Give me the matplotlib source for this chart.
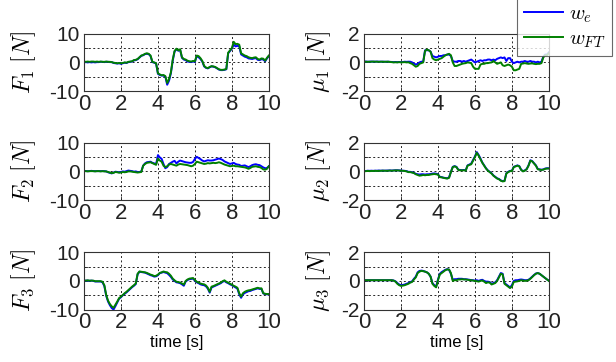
import numpy as np
import matplotlib
matplotlib.use("Agg")
import matplotlib.pyplot as plt

plt.rcParams['font.family'] = ['Liberation Sans', 'DejaVu Sans']
plt.rcParams['mathtext.fontset'] = 'cm'
plt.rcParams['axes.unicode_minus'] = False

# time axis, 0.1 s steps
t = np.linspace(0, 10, 101)

# F1 [N]
f1_e = [0.0, 0.1, 0.0, 0.1, 0.0, 0.1, 0.0, 0.1, 0.1, 0.2,
        0.2, 0.1, 0.2, 0.2, 0.1, 0.1, -0.2, -0.3, -0.4, -0.3,
        -0.5, -0.3, -0.1, -0.2, 0.1, 0.2, 0.3, 0.7, 0.8, 1.1,
        1.7, 2.3, 2.5, 2.9, 3.0, 2.9, 2.2, 0.1, -0.1, -0.4,
        -4.0, -4.4, -4.6, -4.6, -5.0, -7.8, -6.4, -3.8, 0.6, 3.8,
        4.6, 4.1, 4.4, 1.6, 1.0, 0.8, 0.3, 0.2, 0.1, 0.3,
        0.2, 2.2, 1.8, 1.2, 0.3, -1.4, -1.9, -2.1, -1.7, -1.4,
        -1.5, -1.7, -2.1, -2.5, -2.7, -2.7, -2.6, -2.4, 3.2, 4.0,
        4.8, 6.2, 5.6, 5.8, 5.6, 2.8, 2.4, 2.0, 1.8, 1.4,
        1.3, 1.2, 1.4, 1.5, 0.9, 0.8, 1.1, 1.0, 0.4, 1.4,
        2.2]
f1_ft = [0.3, 0.2, 0.3, 0.2, 0.3, 0.3, 0.2, 0.3, 0.2, 0.3,
         0.2, 0.2, 0.3, 0.2, 0.2, 0.1, -0.1, -0.2, -0.3, -0.2,
         -0.3, -0.2, 0.0, -0.1, 0.2, 0.3, 0.4, 0.8, 0.9, 1.2,
         1.8, 2.4, 2.6, 3.0, 3.2, 3.0, 2.4, 0.2, 0.0, -0.3,
         -3.8, -4.2, -4.5, -4.4, -4.8, -7.2, -5.8, -3.5, 1.0, 4.0,
         4.8, 4.2, 4.6, 1.8, 1.2, 1.0, 0.6, 0.4, 0.3, 0.5,
         0.4, 2.4, 2.2, 1.5, 0.5, -1.2, -1.8, -2.0, -1.6, -1.3,
         -1.4, -1.6, -2.0, -2.4, -2.6, -2.6, -2.5, -2.3, 3.4, 4.2,
         5.0, 7.2, 6.4, 6.5, 6.2, 3.2, 2.8, 2.4, 2.2, 1.8,
         1.6, 1.5, 1.7, 1.8, 1.2, 1.0, 1.4, 1.3, 0.6, 1.6,
         2.4]

# F2 [N]
f2_e = [0.2, 0.1, 0.1, 0.1, 0.2, 0.1, 0.1, 0.1, 0.1, 0.1,
        0.1, 0.1, 0.0, -0.3, -0.5, -0.7, -0.4, -0.1, -0.2, -0.3,
        -0.2, 0.0, -0.1, 0.1, 0.3, 0.2, 0.1, -0.1, 0.0, -0.2,
        -0.2, 0.0, 2.0, 2.8, 3.2, 3.3, 3.4, 3.0, 2.8, 2.5,
        5.7, 4.9, 4.4, 2.6, 1.1, 1.5, 2.6, 3.0, 3.4, 3.7,
        2.8, 3.4, 3.8, 3.6, 3.4, 3.2, 3.1, 3.0, 3.0, 3.3,
        4.4, 5.1, 4.7, 4.3, 3.8, 3.5, 3.7, 3.9, 3.8, 3.8,
        3.9, 4.1, 4.3, 4.5, 4.3, 4.0, 3.5, 3.2, 2.9, 2.6,
        2.8, 3.0, 2.6, 2.4, 2.3, 1.9, 2.0, 2.1, 1.8, 1.5,
        1.8, 2.2, 2.4, 2.5, 2.3, 2.2, 1.8, 1.4, 1.1, 1.2,
        1.8]
f2_ft = [0.1, 0.1, 0.0, 0.1, 0.1, 0.1, 0.0, 0.1, 0.1, 0.0,
         0.1, 0.0, 0.0, -0.2, -0.4, -0.6, -0.5, -0.2, -0.3, -0.45,
         -0.4, -0.2, -0.3, -0.2, 0.0, 0.0, -0.1, -0.2, -0.3, -0.4,
         -0.3, -0.2, 2.0, 2.6, 3.0, 3.1, 3.2, 2.9, 2.6, 2.3,
         4.5, 3.8, 3.4, 2.0, 1.5, 1.8, 2.4, 2.6, 2.4, 2.2,
         2.0, 2.4, 2.6, 2.5, 2.4, 2.3, 2.2, 2.0, 1.8, 2.0,
         2.6, 3.4, 3.2, 3.0, 2.8, 2.6, 2.7, 2.9, 2.8, 2.9,
         3.0, 2.9, 3.0, 3.2, 3.0, 2.7, 2.4, 2.2, 2.0, 1.8,
         1.9, 2.0, 1.8, 1.8, 1.7, 1.6, 1.5, 1.4, 1.2, 0.9,
         1.2, 1.6, 1.7, 1.8, 1.6, 1.5, 1.2, 0.7, 0.6, 0.9,
         1.8]

# F3 [N]
f3_e = [0.0, 0.1, 0.1, 0.0, 0.1, 0.0, -0.2, -0.2, -0.2, -0.2,
        -0.5, -1.8, -5.2, -7.2, -8.5, -9.5, -10.0, -8.8, -7.5, -6.2,
        -5.7, -5.0, -4.5, -4.0, -3.4, -2.8, -2.2, -1.7, -1.1, 2.3,
        3.2, 3.1, 3.0, 2.9, 2.6, 2.3, 2.0, 1.8, 1.5, 1.6,
        2.0, 2.7, 2.9, 3.1, 2.9, 2.7, 2.1, 1.4, 0.5, 0.0,
        -0.5, -0.6, -0.8, -1.2, -1.7, -0.2, 0.3, 0.6, 0.7, 0.8,
        0.1, -0.5, -0.8, -1.2, -1.4, -1.5, -1.9, -2.7, -4.1, -2.3,
        -2.0, -1.7, -1.4, -1.1, -0.8, -0.3, 0.0, -0.5, -0.8, -1.2,
        -1.5, -1.9, -2.3, -2.7, -4.7, -5.9, -4.7, -4.2, -3.9, -3.6,
        -3.5, -3.2, -3.0, -2.8, -2.6, -2.8, -2.8, -4.4, -4.6, -4.7,
        -4.7]
f3_ft = [0.1, 0.1, 0.2, 0.1, 0.1, 0.1, -0.1, -0.1, -0.1, -0.1,
         -0.3, -1.5, -4.9, -6.9, -8.1, -8.9, -9.4, -8.3, -7.2, -6.0,
         -5.5, -4.9, -4.3, -3.8, -3.2, -2.6, -2.0, -1.5, -0.9, 2.5,
         3.3, 3.2, 3.1, 3.0, 2.8, 2.5, 2.2, 2.0, 1.7, 1.8,
         2.2, 2.8, 3.0, 3.3, 3.1, 3.0, 2.5, 1.8, 0.8, 0.2,
         -0.3, -0.4, -0.6, -0.9, -1.3, 0.0, 0.5, 0.8, 0.9, 1.0,
         0.3, -0.3, -0.6, -0.9, -1.1, -1.2, -1.6, -2.4, -3.8, -2.0,
         -1.8, -1.5, -1.2, -0.9, -0.6, -0.1, 0.2, -0.3, -0.6, -1.0,
         -1.3, -1.7, -2.0, -2.4, -4.3, -5.5, -4.3, -3.8, -3.5, -3.3,
         -3.2, -3.0, -2.8, -2.6, -2.4, -2.6, -2.6, -4.3, -4.5, -4.6,
         -4.6]

# mu1 [N]
m1_e = [0.05, 0.06, 0.05, 0.05, 0.06, 0.05, 0.05, 0.06, 0.05, 0.05,
        0.05, 0.05, 0.04, 0.05, 0.04, 0.03, 0.02, 0.03, 0.02, 0.03,
        0.02, 0.03, 0.05, 0.04, 0.05, 0.05, 0.0, -0.08, -0.15, -0.1,
        0.0, 0.05, 0.05, 0.85, 0.85, 0.85, 0.75, 0.45, 0.4, 0.35,
        0.4, 0.45, 0.45, 0.5, 0.5, 0.55, 0.55, 0.45, 0.1, 0.05,
        0.05, 0.1, 0.1, 0.05, 0.1, 0.05, 0.1, 0.15, 0.2, 0.1,
        0.0, 0.05, 0.1, 0.15, 0.1, 0.15, 0.15, 0.2, 0.2, 0.15,
        0.2, 0.15, 0.25, 0.3, 0.35, 0.3, 0.35, 0.1, 0.3, 0.3,
        0.05, -0.05, 0.0, 0.05, 0.0, 0.05, 0.05, 0.1, 0.05, 0.05,
        0.1, 0.05, 0.05, 0.0, 0.05, 0.0, 0.05, 0.4, 0.55, 0.55,
        0.7]
m1_ft = [0.05, 0.05, 0.04, 0.05, 0.05, 0.06, 0.05, 0.05, 0.04, 0.05,
         0.05, 0.04, 0.05, 0.05, 0.03, 0.02, 0.0, 0.01, 0.0, 0.02,
         0.0, 0.01, 0.02, 0.0, 0.01, -0.05, -0.1, -0.2, -0.3, -0.25,
         -0.1, -0.05, 0.0, 0.8, 0.9, 0.85, 0.75, 0.3, 0.2, 0.15,
         0.2, 0.25, 0.3, 0.4, 0.5, 0.55, 0.6, 0.5, 0.0, -0.25,
         -0.25, -0.2, -0.15, -0.1, -0.07, -0.05, 0.0, -0.02, -0.05, -0.3,
         -0.45, -0.45, -0.45, -0.15, -0.1, -0.1, -0.05, -0.05, -0.02, 0.0,
         0.1, 0.0, -0.1, -0.05, 0.0, -0.2, -0.25, -0.2, -0.15, -0.2,
         -0.3, -0.55, -0.55, -0.5, -0.45, -0.1, -0.08, -0.05, -0.08, -0.1,
         -0.08, -0.07, -0.1, -0.12, -0.1, -0.1, -0.05, 0.35, 0.5, 0.5,
         0.65]

# mu2 [N]
m2_e = [0.02, 0.03, 0.05, 0.04, 0.05, 0.04, 0.05, 0.05, 0.06, 0.05,
        0.06, 0.05, 0.06, 0.06, 0.07, 0.06, 0.07, 0.08, 0.08, 0.07,
        0.06, 0.05, 0.04, 0.02, -0.03, -0.03, -0.06, -0.1, -0.17, -0.2,
        -0.22, -0.2, -0.2, -0.22, -0.2, -0.2, -0.18, -0.15, -0.14, -0.16,
        -0.2, -0.38, -0.4, -0.44, -0.46, -0.48, -0.42, -0.03, 0.32, 0.37,
        0.32, 0.12, 0.1, 0.09, 0.1, 0.07, 0.42, 0.48, 0.55, 0.8,
        1.05, 1.35, 1.15, 0.9, 0.62, 0.42, 0.22, 0.07, -0.03, -0.13,
        -0.28, -0.38, -0.48, -0.53, -0.63, -0.68, -0.66, -0.13, -0.03, 0.04,
        0.04, 0.32, 0.37, 0.42, 0.37, 0.12, 0.02, 0.07, 0.17, 0.42,
        0.78, 0.72, 0.57, 0.42, 0.17, 0.14, 0.12, 0.14, 0.2, 0.22,
        0.22]
m2_ft = [0.0, 0.02, 0.03, 0.02, 0.03, 0.03, 0.04, 0.03, 0.04, 0.04,
         0.05, 0.05, 0.04, 0.05, 0.06, 0.05, 0.06, 0.07, 0.07, 0.06,
         0.05, 0.04, 0.03, 0.0, -0.05, -0.05, -0.08, -0.12, -0.2, -0.25,
         -0.3, -0.28, -0.25, -0.27, -0.25, -0.25, -0.22, -0.2, -0.18, -0.2,
         -0.22, -0.4, -0.42, -0.45, -0.48, -0.5, -0.45, -0.05, 0.3, 0.35,
         0.3, 0.1, 0.08, 0.07, 0.08, 0.05, 0.4, 0.45, 0.5, 0.75,
         1.0, 1.3, 1.1, 0.85, 0.6, 0.4, 0.2, 0.05, -0.05, -0.15,
         -0.3, -0.4, -0.5, -0.55, -0.65, -0.7, -0.68, -0.15, -0.05, 0.02,
         0.02, 0.3, 0.35, 0.4, 0.35, 0.1, 0.0, 0.05, 0.15, 0.4,
         0.75, 0.7, 0.55, 0.4, 0.15, 0.12, 0.1, 0.12, 0.18, 0.2,
         0.2]

# mu3 [N]
m3_e = [0.05, 0.05, 0.05, 0.05, 0.05, 0.05, 0.05, 0.05, 0.05, 0.05,
        0.05, 0.05, 0.05, 0.05, 0.05, 0.05, 0.03, -0.03, -0.15, -0.25,
        -0.3, -0.28, -0.25, -0.2, -0.15, -0.08, -0.03, 0.15, 0.3, 0.6,
        0.7, 0.72, 0.7, 0.65, 0.6, 0.5, 0.3, -0.15, -0.3, -0.4,
        0.1, 0.5, 0.62, 0.7, 0.78, 0.82, 0.78, 0.5, 0.08, 0.12,
        0.12, 0.15, 0.15, 0.15, 0.12, 0.12, 0.1, 0.08, 0.05, 0.05,
        0.02, 0.05, 0.0, 0.05, 0.08, 0.0, -0.05, -0.05, -0.08, -0.2,
        -0.15, -0.1, 0.05, 0.3, 0.55, 0.5, -0.15, -0.25, -0.35, -0.45,
        -0.3, 0.0, 0.05, 0.05, 0.08, 0.1, 0.08, 0.05, 0.05, 0.08,
        0.18, 0.3, 0.42, 0.52, 0.55, 0.5, 0.4, 0.3, 0.2, 0.1,
        0.02]
m3_ft = [0.05, 0.05, 0.05, 0.05, 0.05, 0.05, 0.05, 0.05, 0.05, 0.05,
         0.05, 0.05, 0.05, 0.05, 0.05, 0.05, 0.02, -0.05, -0.2, -0.3,
         -0.35, -0.33, -0.3, -0.25, -0.2, -0.12, -0.07, 0.1, 0.25, 0.55,
         0.65, 0.7, 0.68, 0.65, 0.6, 0.5, 0.3, -0.2, -0.35, -0.45,
         0.05, 0.45, 0.55, 0.65, 0.75, 0.8, 0.8, 0.55, 0.0, 0.05,
         0.05, 0.1, 0.1, 0.12, 0.1, 0.1, 0.08, 0.05, 0.05, 0.02,
         0.0, -0.02, -0.05, 0.0, 0.03, -0.05, -0.15, -0.1, -0.12, -0.25,
         -0.2, -0.15, 0.0, 0.25, 0.5, 0.45, -0.2, -0.3, -0.4, -0.5,
         -0.4, -0.07, -0.05, -0.03, 0.0, 0.05, 0.03, 0.0, 0.02, 0.05,
         0.15, 0.27, 0.4, 0.5, 0.55, 0.5, 0.4, 0.3, 0.2, 0.1,
         0.0]

force_labels = [r'$F_1\ [N]$', r'$F_2\ [N]$', r'$F_3\ [N]$']
moment_labels = [r'$\mu_1\ [N]$', r'$\mu_2\ [N]$', r'$\mu_3\ [N]$']
force_e = [f1_e, f2_e, f3_e]
force_ft = [f1_ft, f2_ft, f3_ft]
moment_e = [m1_e, m2_e, m3_e]
moment_ft = [m1_ft, m2_ft, m3_ft]

BLUE = '#0000ff'
GREEN = '#008000'

fig = plt.figure(figsize=(6.16, 3.62), dpi=100)

# axes boxes in figure fractions (left, bottom, width, height)
col_left = [0.1364, 0.591]
row_bottom = [0.7486, 0.4475, 0.145]
w, h = 0.300, 0.158


def style_axis(ax, lim, ylabel, label_x, bottom):
    ax.set_xlim(0, 10)
    ax.set_ylim(-lim, lim)
    ax.set_xticks([0, 2, 4, 6, 8, 10])
    ax.set_yticks([-lim, -lim / 2, 0, lim / 2, lim])
    ax.set_yticklabels([f'{-lim:g}', '', '0', '', f'{lim:g}'], fontsize=15)
    ax.set_xticklabels(['0', '2', '4', '6', '8', '10'], fontsize=16)
    ax.tick_params(direction='in', length=3, width=0.6, pad=2, colors='#222222')
    ax.tick_params(axis='y', pad=3)
    ax.grid(True, color='black', linestyle=(0, (2, 2.5)), linewidth=0.7, alpha=0.85)
    for s in ax.spines.values():
        s.set_color('#333333')
        s.set_linewidth(0.8)
    ax.set_ylabel(ylabel, fontsize=17)
    ax.yaxis.set_label_coords(label_x, 0.5)
    if bottom:
        ax.set_xlabel('time [s]', fontsize=12, labelpad=1)


lines = None
for r in range(3):
    ax = fig.add_axes([col_left[0], row_bottom[r], w, h])
    l1, = ax.plot(t, force_e[r], color=BLUE, lw=1.4)
    l2, = ax.plot(t, force_ft[r], color=GREEN, lw=1.4)
    style_axis(ax, 10, force_labels[r], -0.25, r == 2)

    ax = fig.add_axes([col_left[1], row_bottom[r], w, h])
    l1, = ax.plot(t, moment_e[r], color=BLUE, lw=1.4)
    l2, = ax.plot(t, moment_ft[r], color=GREEN, lw=1.4)
    style_axis(ax, 2, moment_labels[r], -0.17, r == 2)
    lines = (l1, l2)

leg = fig.legend(lines, [r'$w_e$', r'$w_{FT}$'], loc='upper right',
                 bbox_to_anchor=(0.994, 1.005), fontsize=15, frameon=True,
                 fancybox=False, edgecolor='#444444', handlelength=1.9,
                 handletextpad=0.3, borderpad=0.3, labelspacing=0.2,
                 borderaxespad=0)
leg.get_frame().set_linewidth(0.8)

fig.savefig('out.png', dpi=100)
